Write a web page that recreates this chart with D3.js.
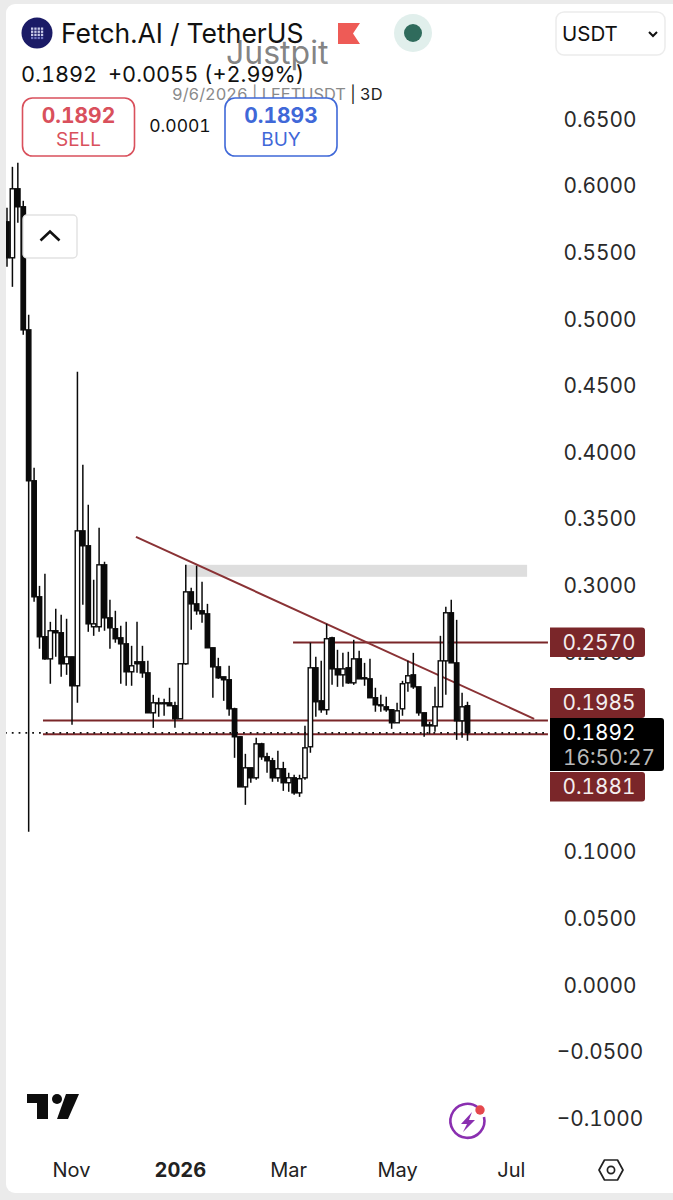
<!DOCTYPE html>
<html><head><meta charset="utf-8">
<script src="https://d3js.org/d3.v7.min.js"></script>
<style>html,body{margin:0;padding:0;background:#fff}svg{display:block;font-family:Inter,Roboto,sans-serif;font-variant-numeric:tabular-nums;font-feature-settings:"tnum" 1}</style>
</head><body><svg id="c" width="673" height="1200"></svg>
<script>
const opens=[.5728,.5458,.5976,.5841,.4917,.3784,.2913,.2613,.2447,.2658,.2643,.2410,.2462,.2245,.3408,.3296,.2688,.2688,.3153,.2755,.2673,.2605,.2560,.2350,.2425,.2425,.2342,.2042,.2110,.2117,.2117,.2095,.1997,.2410,.2950,.2860,.2808,.2785,.2530,.2387,.2312,.2290,.2072,.1862,.1486,.1629,.1554,.1809,.1712,.1682,.1554,.1622,.1517,.1554,.1441,.1554,.1787,.2380,.2132,.2065,.2605,.2372,.2327,.2380,.2267,.2447,.2305,.2297,.2155,.2102,.2087,.2065,.1967,.2072,.2267,.2327,.2237,.2042,.1944,.1944,.2087,.2432,.2793,.2417,.1982,.2095];
const highs=[.5833,.6141,.6171,.5886,.5030,.3881,.2995,.3086,.2725,.2823,.2778,.2748,.2462,.4602,.3904,.3604,.3041,.3431,.3176,.2890,.2808,.2695,.2725,.2545,.2725,.2545,.2432,.2177,.2155,.2147,.2230,.2125,.2410,.3153,.2980,.3146,.3026,.2860,.2530,.2455,.2312,.2395,.2080,.1862,.1734,.1629,.1854,.1817,.1742,.1704,.1757,.1674,.1592,.1577,.1577,.1944,.2568,.2462,.2432,.2710,.2613,.2515,.2492,.2500,.2590,.2507,.2417,.2447,.2230,.2177,.2162,.2065,.2117,.2282,.2432,.2492,.2237,.2042,.1974,.2237,.2620,.2838,.2890,.2740,.2192,.2125];
const lows=[.5390,.5240,.5721,.4880,.1149,.2875,.2523,.2440,.2260,.2462,.2312,.2327,.1952,.2117,.2853,.2650,.2620,.2650,.2658,.2523,.2568,.2260,.2245,.2245,.2342,.2305,.2042,.1929,.2012,.2020,.2095,.1929,.1997,.2402,.2665,.2778,.2718,.2530,.2155,.2297,.2132,.2020,.1704,.1486,.1351,.1517,.1539,.1689,.1592,.1524,.1524,.1456,.1449,.1426,.1411,.1539,.1742,.2012,.2042,.2027,.2252,.2237,.2237,.2260,.2252,.2297,.2245,.2155,.2050,.2050,.2050,.1922,.1967,.2020,.2200,.2222,.2020,.1862,.1884,.1899,.2087,.2177,.2417,.1839,.1854,.1832];
const closes=[.5458,.5976,.5841,.4917,.3784,.2913,.2613,.2447,.2658,.2643,.2410,.2462,.2245,.3408,.3296,.2710,.2710,.3153,.2755,.2680,.2598,.2560,.2350,.2395,.2410,.2342,.2042,.2117,.2117,.2110,.2095,.1997,.2410,.2950,.2860,.2808,.2785,.2530,.2387,.2305,.2290,.2072,.1862,.1486,.1629,.1554,.1809,.1712,.1682,.1554,.1622,.1517,.1554,.1441,.1547,.1779,.2380,.2125,.2065,.2598,.2372,.2327,.2372,.2267,.2447,.2297,.2297,.2155,.2102,.2095,.2065,.1967,.2057,.2260,.2320,.2237,.2042,.1944,.1952,.2087,.2432,.2793,.2417,.1982,.2087,.1892];
const priceTicks=[.65,.6,.55,.5,.45,.4,.35,.3,.25,.2,.15,.1,.05,0,-.05,-.1];
const timeTickAt=[11.8,31.9,51.9,72,93];
const timeTickLabels=["Nov","2026","Mar","May","Jul"];
const levelTop=0.2570, levelMid=0.1985, levelLow=0.1881, lastPrice=0.1892;
const trendFrom=[23.8,0.3363], trendTo=[97.3,0.1997];
const zoneIdx=[33.04,96], zonePrice=[0.3153,0.3063];
const levelStart=6.64, levelTopStart=52.8, levelEnd=99.85;

const maroon="#7a2629";
const svg=d3.select("#c");
const x=d3.scaleLinear().domain([0,85]).range([7,467.5]);
const y=d3.scaleLinear().domain([-.1,.65]).range([1118,119]);

svg.append("rect").attr("width",673).attr("height",1200).attr("fill","#ebebeb");
svg.append("rect").attr("x",6).attr("y",4).attr("width",680).attr("height",1189).attr("rx",9).attr("fill","#fff");

// price axis
const ay=svg.append("g").attr("transform","translate(600,0)").call(d3.axisRight(y).tickValues(priceTicks).tickSize(0).tickFormat(d3.format(".4f")));
ay.select(".domain").remove();
ay.selectAll("text").attr("x",0).attr("dy",".35em").attr("text-anchor","middle").attr("font-size",20.8).attr("font-family","Inter").attr("fill","#2a2a2a");

// zone and drawings below candles
svg.append("rect").attr("x",x(zoneIdx[0])).attr("width",x(zoneIdx[1])-x(zoneIdx[0])).attr("y",y(zonePrice[0])).attr("height",y(zonePrice[1])-y(zonePrice[0])).attr("fill","#dedede");

const lw=2;
function hline(a,b,v,col,w,dash){const l=svg.append("line").attr("x1",x(a)).attr("x2",x(b)).attr("y1",y(v)).attr("y2",y(v)).attr("stroke",col).attr("stroke-width",w);if(dash)l.attr("stroke-dasharray",dash);return l;}
hline(levelStart,levelEnd,levelMid,maroon,lw);
hline(levelStart,levelEnd,levelLow,maroon,lw);
hline(levelTopStart,levelEnd,levelTop,maroon,lw);
svg.append("line").attr("x1",x(trendFrom[0])).attr("y1",y(trendFrom[1])).attr("x2",x(trendTo[0])).attr("y2",y(trendTo[1])).attr("stroke","#8a3235").attr("stroke-width",2);
// last price dotted
svg.append("line").attr("x1",5).attr("x2",x(levelEnd)).attr("y1",y(lastPrice)).attr("y2",y(lastPrice)).attr("stroke","#111").attr("stroke-width",1.8).attr("stroke-dasharray","1.8 5");

// candles
const idx=d3.range(opens.length);
const cg=svg.append("g");
cg.selectAll("line").data(idx).join("line")
 .attr("x1",i=>x(i)).attr("x2",i=>x(i)).attr("y1",i=>y(highs[i])).attr("y2",i=>y(lows[i]))
 .attr("stroke","#0a0a0a").attr("stroke-width",1.5);
cg.selectAll("rect").data(idx).join("rect")
 .attr("x",i=>x(i)-2.2).attr("width",4.4)
 .attr("y",i=>y(Math.max(opens[i],closes[i])))
 .attr("height",i=>Math.max(0.4,Math.abs(y(opens[i])-y(closes[i]))))
 .attr("fill",i=>closes[i]>=opens[i]?"#fff":"#0a0a0a").attr("stroke","#0a0a0a").attr("stroke-width",1.4);

// left strip on top
svg.append("rect").attr("width",6).attr("height",1200).attr("fill","#ebebeb");

// price tags
function tag(yy,h,w,fill){
 svg.append("path").attr("d",`M550 ${yy}H${550+w-3}q3 0 3 3V${yy+h-3}q0 3 -3 3H550Z`).attr("fill",fill);
}
function tagText(t,yy,col,anchorX){svg.append("text").attr("x",anchorX||599).attr("y",yy).attr("text-anchor","middle").attr("dy",".35em").attr("font-size",20.8).attr("fill",col).text(t);}
tag(627.5,29.5,95,maroon); tagText(d3.format(".4f")(levelTop),642.5,"#f4eeee");
tag(688,30,95,maroon); tagText(d3.format(".4f")(levelMid),702.5,"#f4eeee");
tag(772,29.5,95,maroon); tagText(d3.format(".4f")(levelLow),787,"#f4eeee");
tag(718,53,114,"#000"); tagText(d3.format(".4f")(lastPrice),733,"#fff");
tagText("16:50:27",758,"#b9b9b9",609);

// time axis
const ax=svg.append("g").attr("transform","translate(0,1170)").call(d3.axisBottom(x).tickValues(timeTickAt).tickSize(0).tickFormat((d,i)=>timeTickLabels[i]));
ax.select(".domain").remove();
ax.selectAll("text").attr("y",0).attr("dy",".35em").attr("font-size",20).attr("font-family","Inter").attr("fill","#222").attr("font-weight",(d,i)=>timeTickLabels[i]==="2026"?700:400);

// settings hexagon
svg.append("path").attr("d","M599 1170L604.5 1160H617.5L623 1170L617.5 1180H604.5Z").attr("fill","none").attr("stroke","#222").attr("stroke-width",1.7).attr("stroke-linejoin","round");
svg.append("circle").attr("cx",611).attr("cy",1170).attr("r",3.6).attr("fill","none").attr("stroke","#222").attr("stroke-width",1.7);

// TV logo
svg.append("path").attr("d","M27 1094H48V1119H37V1103H27Z").attr("fill","#0d0d0d");
svg.append("circle").attr("cx",57).attr("cy",1099).attr("r",5).attr("fill","#0d0d0d");
svg.append("path").attr("d","M66 1094H79L68 1119H57Z").attr("fill","#0d0d0d");

// bolt icon
svg.append("path").attr("d","M478 1107.5A17 17 0 1 0 484 1117").attr("fill","none").attr("stroke","#8a2fb0").attr("stroke-width",2.6);
svg.append("path").attr("d","M472 1112L461 1124H467L463 1132L475 1120H469Z").attr("fill","#8a2fb0");
svg.append("circle").attr("cx",480).attr("cy",1110).attr("r",4.7).attr("fill","#e5484d");

// chevron button
svg.append("rect").attr("x",23).attr("y",215).attr("width",54).attr("height",43).attr("rx",4).attr("fill","#fff").attr("stroke","#e2e2e2").attr("stroke-width",1.4);
svg.append("path").attr("d","M40.5 240.5L50 231.5L59.5 240.5").attr("fill","none").attr("stroke","#111").attr("stroke-width",2.6);

// header
svg.append("circle").attr("cx",37).attr("cy",33).attr("r",15.5).attr("fill","#1b1b66");
const dots=[0,1,2,3];
dots.forEach(r=>dots.forEach(c=>svg.append("rect").attr("x",31+c*3.3).attr("y",27.5+r*3.1).attr("width",2.3).attr("height",2.3).attr("fill",r==3?"#6f74c0":"#c9cbe8")));
svg.append("text").attr("x",61).attr("y",43).attr("font-size",26.5).attr("fill","#111").text("Fetch.AI / TetherUS");
svg.append("path").attr("d","M338 23H360L353 33.5L360 44H338Z").attr("fill","#ee5b56");
svg.append("circle").attr("cx",413).attr("cy",33).attr("r",19).attr("fill","#e1efec");
svg.append("circle").attr("cx",413).attr("cy",33).attr("r",9).attr("fill","#2f6b5c");
svg.append("rect").attr("x",556).attr("y",12).attr("width",109).attr("height",43).attr("rx",8).attr("fill","#fff").attr("stroke","#ececec").attr("stroke-width",1.5);
svg.append("text").attr("x",562).attr("y",41).attr("font-size",20.5).attr("fill","#111").text("USDT");
svg.append("path").attr("d","M649 32L653 36L657 32").attr("fill","none").attr("stroke","#111").attr("stroke-width",2);

svg.append("text").attr("x",21).attr("y",82).attr("font-size",21.7).attr("fill","#111").text("0.1892");
svg.append("text").attr("x",108).attr("y",82).attr("font-size",21.7).attr("fill","#111").text("+0.0055 (+2.99%)");
const sub=svg.append("text").attr("x",172).attr("y",100).attr("font-size",16.4).attr("fill","#8a8a8a");
sub.append("tspan").text("9/6/2026 | LFETUSDT ");
sub.append("tspan").attr("fill","#222").text("| 3D");
svg.append("text").attr("x",226).attr("y",64).attr("font-size",32).attr("fill","#6e6e6e").attr("fill-opacity",.85).text("Justpit");

function btn(xp,col,price,lab){
 svg.append("rect").attr("x",xp).attr("y",98).attr("width",112).attr("height",58).attr("rx",10).attr("fill","#fff").attr("stroke",col).attr("stroke-width",1.6);
 svg.append("text").attr("x",xp+56).attr("y",122.5).attr("text-anchor","middle").attr("font-size",21).attr("font-weight",700).attr("fill",col).text(price);
 svg.append("text").attr("x",xp+56).attr("y",146).attr("text-anchor","middle").attr("font-size",19).attr("fill",col).text(lab);
}
btn(22.5,"#d9505c","0.1892","SELL");
btn(225,"#3f68d8","0.1893","BUY");
svg.append("text").attr("x",180).attr("y",132).attr("text-anchor","middle").attr("font-size",17.5).attr("fill","#111").text("0.0001");
</script></body></html>
